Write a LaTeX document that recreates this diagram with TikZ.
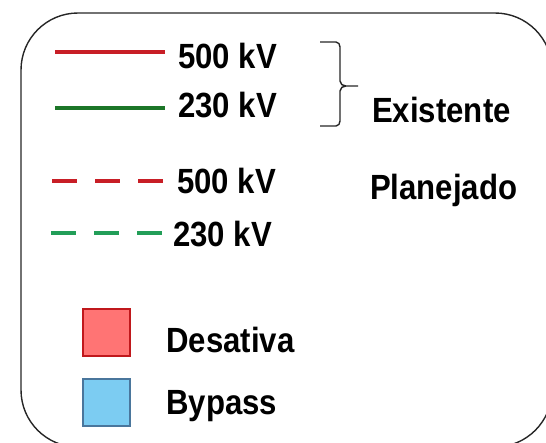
\documentclass[tikz,border=0pt]{standalone}
\usepackage{fontspec}
\setmainfont[FakeStretch=0.89]{Liberation Sans}
\definecolor{linhaVermelha}{RGB}{200,30,38}
\definecolor{linhaVerde}{RGB}{28,118,40}
\definecolor{linhaVerdeClara}{RGB}{34,158,88}
\definecolor{caixaVermelha}{RGB}{255,116,116}
\definecolor{bordaVermelha}{RGB}{192,24,28}
\definecolor{caixaAzul}{RGB}{124,204,242}
\definecolor{bordaAzul}{RGB}{74,118,156}

\begin{document}
\begin{tikzpicture}[x=1pt,y=-1pt]
		\tikzstyle{legenda}=[inner sep=0pt,anchor=base west,font=\fontsize{35}{40}\selectfont\bfseries]
		\tikzstyle{existente}=[line width=3.5pt]
		\tikzstyle{planejado}=[line width=4.5pt,dash pattern=on 25pt off 18pt]
		\tikzstyle{caixa}=[draw,line width=2pt,minimum size=47pt,inner sep=0pt]
		\tikzstyle{chave}=[draw=black!85,line width=1.4pt]
		
		\clip (0,0) rectangle (546,442);
		
		%% Moldura
		\draw[black!85,line width=1.4pt,rounded corners=57pt] (21,13) rectangle (552,447);
		
		%% Linhas existentes
		\coordinate (ex500a) at (55,52);
		\coordinate (ex500b) at (165,52);
		\coordinate (ex230a) at (55,108);
		\coordinate (ex230b) at (165,108);
		\node[legenda] (tex500) at (178,68) {500 kV};
		\node[legenda] (tex230) at (178,117) {230 kV};
		\draw[existente,linhaVermelha] (ex500a) -- (ex500b);
		\draw[existente,linhaVerde] (ex230a) -- (ex230b);
		
		% Chave
		\coordinate (chtopo) at (320,42);
		\coordinate (chbase) at (320,126);
		\coordinate (chmeio) at (346,86);
		\coordinate (chponta) at (358,86);
		\draw[chave] (chtopo) -- ++(16,0) to[out=0,in=90] ++(4,5) -- (340,81)
		to[out=-90,in=180] (chmeio) -- (chponta);
		\draw[chave] (chbase) -- ++(16,0) to[out=0,in=-90] ++(4,-5) -- (340,91)
		to[out=90,in=180] (chmeio);
		\node[legenda] (existe) at (372,122) {Existente};
		
		%% Linhas planejadas
		\coordinate (pl500a) at (52,181);
		\coordinate (pl500b) at (163,181);
		\coordinate (pl230a) at (51,233);
		\coordinate (pl230b) at (162,233);
		\node[legenda] (tpl500) at (177,193) {500 kV};
		\node[legenda] (tpl230) at (173,246) {230 kV};
		\draw[planejado,linhaVermelha] (pl500a) -- (pl500b);
		\draw[planejado,linhaVerdeClara] (pl230a) -- (pl230b);
		\node[legenda] (plano) at (370,199) {Planejado};
		
		%% Caixas
		\node[caixa,draw=bordaVermelha,fill=caixaVermelha] (desat) at (106.5,332.5) {};
		\node[caixa,draw=bordaAzul,fill=caixaAzul] (bypass) at (106.5,402) {};
		\node[legenda] (tdesat) at (166,352) {Desativa};
		\node[legenda] (tbypass) at (166,414) {Bypass};
		
	\end{tikzpicture}
\end{document}
